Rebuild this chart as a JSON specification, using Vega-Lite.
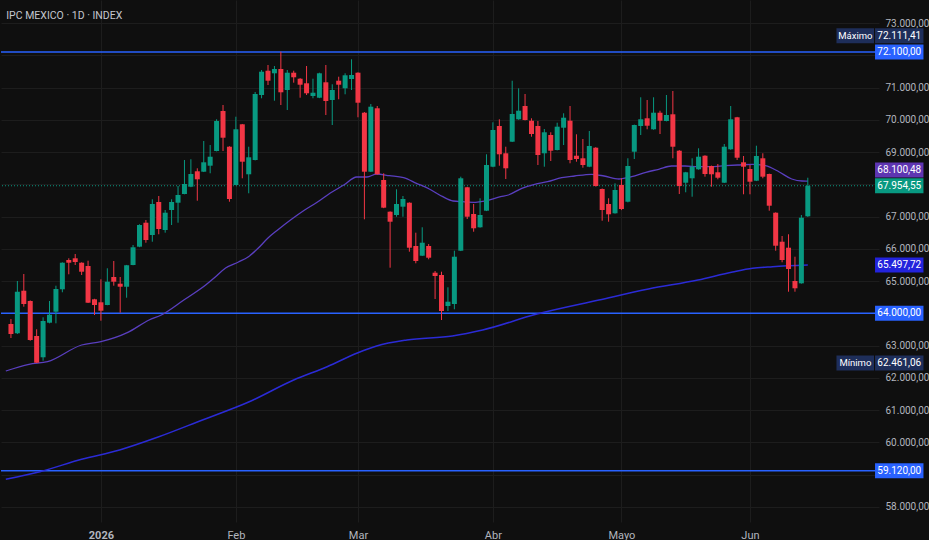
{
  "$schema": "https://vega.github.io/schema/vega-lite/v6.json",
  "width": 878,
  "height": 522,
  "padding": 0,
  "background": "#0f0f0f",
  "title": {
    "text": "IPC MEXICO · 1D · INDEX",
    "anchor": "start",
    "orient": "top",
    "offset": -21,
    "dx": 6,
    "fontSize": 10.5,
    "fontWeight": "normal",
    "color": "#c3c6ce",
    "font": "Roboto"
  },
  "datasets": {
    "velas": [
      {"i": 0, "o": 63669, "h": 63824, "l": 63235, "c": 63359},
      {"i": 1, "o": 63381, "h": 65002, "l": 63359, "c": 64671},
      {"i": 2, "o": 64701, "h": 65219, "l": 64205, "c": 64289},
      {"i": 3, "o": 64382, "h": 64400, "l": 63150, "c": 63173},
      {"i": 4, "o": 63297, "h": 63505, "l": 62461.06, "c": 62469},
      {"i": 5, "o": 62637, "h": 63877, "l": 62531, "c": 63762},
      {"i": 6, "o": 63709, "h": 64382, "l": 63690, "c": 63957},
      {"i": 7, "o": 64050, "h": 64856, "l": 63690, "c": 64754},
      {"i": 8, "o": 64745, "h": 65580, "l": 64652, "c": 65569},
      {"i": 9, "o": 65653, "h": 65706, "l": 65210, "c": 65569},
      {"i": 10, "o": 65706, "h": 65839, "l": 65498, "c": 65591},
      {"i": 11, "o": 65569, "h": 65580, "l": 65188, "c": 65290},
      {"i": 12, "o": 65467, "h": 65631, "l": 64320, "c": 64329},
      {"i": 13, "o": 64435, "h": 64450, "l": 63948, "c": 64258},
      {"i": 14, "o": 64342, "h": 65055, "l": 63771, "c": 64081},
      {"i": 15, "o": 64258, "h": 65396, "l": 64250, "c": 64980},
      {"i": 16, "o": 65126, "h": 65622, "l": 64856, "c": 64980},
      {"i": 17, "o": 64918, "h": 65126, "l": 64019, "c": 64825},
      {"i": 18, "o": 64825, "h": 65500, "l": 64484, "c": 65489},
      {"i": 19, "o": 65498, "h": 66118, "l": 65490, "c": 66047},
      {"i": 20, "o": 66066, "h": 66760, "l": 66050, "c": 66738},
      {"i": 21, "o": 66809, "h": 66893, "l": 66189, "c": 66273},
      {"i": 22, "o": 66428, "h": 67535, "l": 66220, "c": 67389},
      {"i": 23, "o": 67451, "h": 67637, "l": 66450, "c": 66614},
      {"i": 24, "o": 66583, "h": 67203, "l": 66500, "c": 67119},
      {"i": 25, "o": 67203, "h": 67535, "l": 66738, "c": 67451},
      {"i": 26, "o": 67429, "h": 67947, "l": 66809, "c": 67668},
      {"i": 27, "o": 67699, "h": 68753, "l": 67690, "c": 68009},
      {"i": 28, "o": 67925, "h": 68775, "l": 67910, "c": 68319},
      {"i": 29, "o": 68403, "h": 68496, "l": 67491, "c": 68155},
      {"i": 30, "o": 68390, "h": 69342, "l": 68380, "c": 68682},
      {"i": 31, "o": 68576, "h": 69218, "l": 68341, "c": 68855},
      {"i": 32, "o": 69032, "h": 70015, "l": 69020, "c": 69962},
      {"i": 33, "o": 70272, "h": 70458, "l": 69032, "c": 69444},
      {"i": 34, "o": 69165, "h": 69180, "l": 67460, "c": 67544},
      {"i": 35, "o": 67978, "h": 70095, "l": 67970, "c": 69705},
      {"i": 36, "o": 69860, "h": 69870, "l": 68186, "c": 68700},
      {"i": 37, "o": 68310, "h": 69165, "l": 67721, "c": 68837},
      {"i": 38, "o": 68753, "h": 70861, "l": 68740, "c": 70799},
      {"i": 39, "o": 70768, "h": 71543, "l": 70666, "c": 71490},
      {"i": 40, "o": 71521, "h": 71698, "l": 71078, "c": 71211},
      {"i": 41, "o": 71441, "h": 71667, "l": 70591, "c": 71574},
      {"i": 42, "o": 71574, "h": 72111.41, "l": 70458, "c": 70852},
      {"i": 43, "o": 70923, "h": 71543, "l": 70303, "c": 71459},
      {"i": 44, "o": 71459, "h": 71521, "l": 71150, "c": 71317},
      {"i": 45, "o": 71273, "h": 71290, "l": 70684, "c": 71087},
      {"i": 46, "o": 71131, "h": 71667, "l": 70768, "c": 70821},
      {"i": 47, "o": 70737, "h": 71273, "l": 70666, "c": 70839},
      {"i": 48, "o": 70684, "h": 71459, "l": 70670, "c": 71441},
      {"i": 49, "o": 71162, "h": 71698, "l": 70148, "c": 70582},
      {"i": 50, "o": 70613, "h": 71100, "l": 69838, "c": 70923},
      {"i": 51, "o": 71211, "h": 71335, "l": 70635, "c": 71087},
      {"i": 52, "o": 70976, "h": 71441, "l": 70790, "c": 71379},
      {"i": 53, "o": 71264, "h": 71875, "l": 70923, "c": 71388},
      {"i": 54, "o": 71459, "h": 71470, "l": 70077, "c": 70529},
      {"i": 55, "o": 70219, "h": 70240, "l": 66915, "c": 68390},
      {"i": 56, "o": 68390, "h": 70489, "l": 68380, "c": 70405},
      {"i": 57, "o": 70356, "h": 70427, "l": 68300, "c": 68310},
      {"i": 58, "o": 68133, "h": 68341, "l": 67260, "c": 67275},
      {"i": 59, "o": 67150, "h": 67160, "l": 65414, "c": 66840},
      {"i": 60, "o": 67048, "h": 67845, "l": 66995, "c": 67389},
      {"i": 61, "o": 67306, "h": 67637, "l": 66995, "c": 67544},
      {"i": 62, "o": 67429, "h": 67440, "l": 65910, "c": 66034},
      {"i": 63, "o": 66087, "h": 66500, "l": 65551, "c": 65622},
      {"i": 64, "o": 65786, "h": 66667, "l": 65776, "c": 66189},
      {"i": 65, "o": 66087, "h": 66149, "l": 65675, "c": 65724},
      {"i": 66, "o": 65259, "h": 65312, "l": 64444, "c": 65157},
      {"i": 67, "o": 65188, "h": 65290, "l": 63793, "c": 64072},
      {"i": 68, "o": 64227, "h": 64807, "l": 64072, "c": 64360},
      {"i": 69, "o": 64289, "h": 65941, "l": 64125, "c": 65755},
      {"i": 70, "o": 65941, "h": 68236, "l": 65930, "c": 68186},
      {"i": 71, "o": 67907, "h": 67920, "l": 66924, "c": 66995},
      {"i": 72, "o": 67079, "h": 67389, "l": 66530, "c": 66636},
      {"i": 73, "o": 66667, "h": 67566, "l": 66655, "c": 67048},
      {"i": 74, "o": 67181, "h": 68930, "l": 67170, "c": 68598},
      {"i": 75, "o": 68545, "h": 69922, "l": 68530, "c": 69683},
      {"i": 76, "o": 69807, "h": 70015, "l": 68576, "c": 68930},
      {"i": 77, "o": 68961, "h": 69165, "l": 68164, "c": 68496},
      {"i": 78, "o": 69320, "h": 71211, "l": 69310, "c": 70179},
      {"i": 79, "o": 70015, "h": 70976, "l": 70000, "c": 70281},
      {"i": 80, "o": 70427, "h": 70799, "l": 69980, "c": 69993},
      {"i": 81, "o": 69971, "h": 70046, "l": 69475, "c": 69559},
      {"i": 82, "o": 69807, "h": 69962, "l": 68598, "c": 68908},
      {"i": 83, "o": 68961, "h": 69714, "l": 68545, "c": 69612},
      {"i": 84, "o": 69528, "h": 69612, "l": 68722, "c": 69041},
      {"i": 85, "o": 69063, "h": 69909, "l": 69050, "c": 69786},
      {"i": 86, "o": 69754, "h": 70201, "l": 69218, "c": 70064},
      {"i": 87, "o": 69971, "h": 70427, "l": 68651, "c": 68753},
      {"i": 88, "o": 68886, "h": 69550, "l": 68700, "c": 68784},
      {"i": 89, "o": 68806, "h": 69404, "l": 68514, "c": 68598},
      {"i": 90, "o": 68545, "h": 69652, "l": 68530, "c": 69187},
      {"i": 91, "o": 69134, "h": 69150, "l": 67930, "c": 67947},
      {"i": 92, "o": 67854, "h": 67870, "l": 66871, "c": 67203},
      {"i": 93, "o": 67389, "h": 67566, "l": 66840, "c": 67070},
      {"i": 94, "o": 67101, "h": 68031, "l": 67090, "c": 67823},
      {"i": 95, "o": 67978, "h": 68186, "l": 67200, "c": 67234},
      {"i": 96, "o": 67460, "h": 68806, "l": 67440, "c": 68567},
      {"i": 97, "o": 69010, "h": 69850, "l": 68784, "c": 69838},
      {"i": 98, "o": 69807, "h": 70697, "l": 69528, "c": 70015},
      {"i": 99, "o": 70046, "h": 70613, "l": 69705, "c": 69816},
      {"i": 100, "o": 69705, "h": 70697, "l": 69690, "c": 70219},
      {"i": 101, "o": 70219, "h": 70281, "l": 69559, "c": 69971},
      {"i": 102, "o": 69962, "h": 70768, "l": 69950, "c": 70148},
      {"i": 103, "o": 70170, "h": 70892, "l": 68806, "c": 69165},
      {"i": 104, "o": 69041, "h": 69060, "l": 67699, "c": 67947},
      {"i": 105, "o": 68049, "h": 68385, "l": 67752, "c": 68372},
      {"i": 106, "o": 68186, "h": 68806, "l": 67615, "c": 68545},
      {"i": 107, "o": 68465, "h": 69116, "l": 68450, "c": 68855},
      {"i": 108, "o": 68886, "h": 68900, "l": 68236, "c": 68319},
      {"i": 109, "o": 68567, "h": 68580, "l": 67925, "c": 68310},
      {"i": 110, "o": 68372, "h": 68629, "l": 68155, "c": 68204},
      {"i": 111, "o": 68049, "h": 69249, "l": 68040, "c": 69165},
      {"i": 112, "o": 69085, "h": 70427, "l": 69070, "c": 70015},
      {"i": 113, "o": 70077, "h": 70090, "l": 68753, "c": 68824},
      {"i": 114, "o": 68682, "h": 68877, "l": 67690, "c": 68545},
      {"i": 115, "o": 68474, "h": 68598, "l": 67690, "c": 68080},
      {"i": 116, "o": 68111, "h": 69196, "l": 68100, "c": 68877},
      {"i": 117, "o": 68806, "h": 68961, "l": 68186, "c": 68236},
      {"i": 118, "o": 68319, "h": 68330, "l": 67181, "c": 67336},
      {"i": 119, "o": 67119, "h": 67130, "l": 65941, "c": 66096},
      {"i": 120, "o": 66220, "h": 66397, "l": 65582, "c": 65653},
      {"i": 121, "o": 66034, "h": 66450, "l": 64670, "c": 65374},
      {"i": 122, "o": 65002, "h": 65755, "l": 64670, "c": 64776},
      {"i": 123, "o": 64930, "h": 67048, "l": 64920, "c": 66964},
      {"i": 124, "o": 67008, "h": 68204, "l": 66990, "c": 67954.55}
    ],
    "medias": [
      {"serie": "ma50", "i": -0.8, "valor": 62212},
      {"serie": "ma50", "i": 2.8, "valor": 62420},
      {"serie": "ma50", "i": 5.7, "valor": 62500},
      {"serie": "ma50", "i": 11, "valor": 63018},
      {"serie": "ma50", "i": 14, "valor": 63121},
      {"serie": "ma50", "i": 18.1, "valor": 63400},
      {"serie": "ma50", "i": 21.5, "valor": 63793},
      {"serie": "ma50", "i": 23.4, "valor": 63948},
      {"serie": "ma50", "i": 26.9, "valor": 64413},
      {"serie": "ma50", "i": 30.3, "valor": 64878},
      {"serie": "ma50", "i": 31.8, "valor": 65126},
      {"serie": "ma50", "i": 33.4, "valor": 65405},
      {"serie": "ma50", "i": 35.4, "valor": 65591},
      {"serie": "ma50", "i": 36.9, "valor": 65746},
      {"serie": "ma50", "i": 38.5, "valor": 66025},
      {"serie": "ma50", "i": 40, "valor": 66335},
      {"serie": "ma50", "i": 41.5, "valor": 66583},
      {"serie": "ma50", "i": 43.5, "valor": 66893},
      {"serie": "ma50", "i": 45.7, "valor": 67203},
      {"serie": "ma50", "i": 47.7, "valor": 67451},
      {"serie": "ma50", "i": 49.7, "valor": 67730},
      {"serie": "ma50", "i": 51.8, "valor": 67978},
      {"serie": "ma50", "i": 53.8, "valor": 68226},
      {"serie": "ma50", "i": 55.4, "valor": 68226},
      {"serie": "ma50", "i": 56.9, "valor": 68319},
      {"serie": "ma50", "i": 58.9, "valor": 68266},
      {"serie": "ma50", "i": 61.1, "valor": 68204},
      {"serie": "ma50", "i": 63.1, "valor": 68031},
      {"serie": "ma50", "i": 65.1, "valor": 67854},
      {"serie": "ma50", "i": 67.2, "valor": 67615},
      {"serie": "ma50", "i": 68.8, "valor": 67482},
      {"serie": "ma50", "i": 70.3, "valor": 67460},
      {"serie": "ma50", "i": 72.3, "valor": 67442},
      {"serie": "ma50", "i": 73.8, "valor": 67482},
      {"serie": "ma50", "i": 76.2, "valor": 67615},
      {"serie": "ma50", "i": 77.4, "valor": 67668},
      {"serie": "ma50", "i": 79.5, "valor": 67876},
      {"serie": "ma50", "i": 81.5, "valor": 68000},
      {"serie": "ma50", "i": 83.5, "valor": 68080},
      {"serie": "ma50", "i": 85.7, "valor": 68204},
      {"serie": "ma50", "i": 87.7, "valor": 68257},
      {"serie": "ma50", "i": 90.3, "valor": 68310},
      {"serie": "ma50", "i": 92.3, "valor": 68257},
      {"serie": "ma50", "i": 94.6, "valor": 68164},
      {"serie": "ma50", "i": 96.6, "valor": 68236},
      {"serie": "ma50", "i": 98.8, "valor": 68372},
      {"serie": "ma50", "i": 100.8, "valor": 68465},
      {"serie": "ma50", "i": 102.8, "valor": 68567},
      {"serie": "ma50", "i": 104.9, "valor": 68567},
      {"serie": "ma50", "i": 106.9, "valor": 68546},
      {"serie": "ma50", "i": 108.9, "valor": 68546},
      {"serie": "ma50", "i": 111.1, "valor": 68576},
      {"serie": "ma50", "i": 113.1, "valor": 68598},
      {"serie": "ma50", "i": 115.4, "valor": 68620},
      {"serie": "ma50", "i": 117.4, "valor": 68576},
      {"serie": "ma50", "i": 119.5, "valor": 68390},
      {"serie": "ma50", "i": 121.5, "valor": 68164},
      {"serie": "ma50", "i": 123.1, "valor": 68102},
      {"serie": "ma50", "i": 124, "valor": 68100.48},
      {"serie": "ma200", "i": -0.8, "valor": 58855},
      {"serie": "ma200", "i": 4.5, "valor": 59090},
      {"serie": "ma200", "i": 11, "valor": 59475},
      {"serie": "ma200", "i": 16.9, "valor": 59763},
      {"serie": "ma200", "i": 22.8, "valor": 60157},
      {"serie": "ma200", "i": 29.8, "valor": 60693},
      {"serie": "ma200", "i": 36.9, "valor": 61242},
      {"serie": "ma200", "i": 44, "valor": 61933},
      {"serie": "ma200", "i": 49.2, "valor": 62345},
      {"serie": "ma200", "i": 54, "valor": 62779},
      {"serie": "ma200", "i": 56.9, "valor": 62987},
      {"serie": "ma200", "i": 61.6, "valor": 63173},
      {"serie": "ma200", "i": 68.7, "valor": 63297},
      {"serie": "ma200", "i": 73.4, "valor": 63483},
      {"serie": "ma200", "i": 81.7, "valor": 63970},
      {"serie": "ma200", "i": 91.5, "valor": 64413},
      {"serie": "ma200", "i": 99.2, "valor": 64754},
      {"serie": "ma200", "i": 106.9, "valor": 65033},
      {"serie": "ma200", "i": 112.3, "valor": 65281},
      {"serie": "ma200", "i": 115.4, "valor": 65396},
      {"serie": "ma200", "i": 118.5, "valor": 65446},
      {"serie": "ma200", "i": 124, "valor": 65497.72}
    ],
    "niveles": [
      {"tipo": "linea", "valor": 72100},
      {"tipo": "linea", "valor": 64000},
      {"tipo": "linea", "valor": 59120},
      {"tipo": "max", "valor": 72111.41, "etiqueta": "Máximo"},
      {"tipo": "min", "valor": 62461.06, "etiqueta": "Mínimo"},
      {"tipo": "ma50", "valor": 68100.48},
      {"tipo": "ma200", "valor": 65497.72},
      {"tipo": "ultimo", "valor": 67954.55}
    ]
  },
  "layer": [
    {
      "data": {"name": "niveles"},
      "transform": [{"filter": "datum.tipo == 'linea'"}],
      "mark": {"type": "rule", "color": "#2962ff", "strokeWidth": 1.5},
      "encoding": {
        "y": {"field": "valor", "type": "quantitative", "scale": {"domain": [57531, 73713], "nice": false, "zero": false},
          "axis": {"orient": "right", "values": [58000, 59000, 60000, 61000, 62000, 63000, 64000, 65000, 66000, 67000, 68000, 69000, 70000, 71000, 72000, 73000], "format": ",.2f", "title": null, "ticks": false, "domain": false, "grid": true, "gridColor": "#1d1d1d", "labelColor": "#b2b5be", "labelFontSize": 10, "labelPadding": 6, "labelFont": "Roboto", "labelExpr": "indexof([59000, 64000, 68000, 72000], datum.value) >= 0 ? '' : datum.label", "labelOverlap": false, "labelBound": false, "labelFlush": false}}
      }
    },
    {
      "data": {"name": "niveles"},
      "transform": [{"filter": "datum.tipo == 'ultimo'"}],
      "mark": {"type": "rule", "color": "#089981", "strokeWidth": 1, "strokeDash": [1, 2]},
      "encoding": {
        "y": {"field": "valor", "type": "quantitative",
          "axis": {"orient": "right", "values": [58000, 59000, 60000, 61000, 62000, 63000, 64000, 65000, 66000, 67000, 68000, 69000, 70000, 71000, 72000, 73000], "format": ",.2f", "title": null, "ticks": false, "domain": false, "grid": true, "gridColor": "#1d1d1d", "labelColor": "#b2b5be", "labelFontSize": 10, "labelPadding": 6, "labelFont": "Roboto", "labelExpr": "indexof([59000, 64000, 68000, 72000], datum.value) >= 0 ? '' : datum.label", "labelOverlap": false, "labelBound": false, "labelFlush": false}}
      }
    },
    {
      "data": {"name": "medias"},
      "transform": [{"filter": "datum.serie == 'ma200'"}],
      "mark": {"type": "line", "color": "#2b2bd6", "strokeWidth": 1.5, "clip": true, "interpolate": "monotone"},
      "encoding": {
        "x": {"field": "i", "type": "quantitative"},
        "y": {"field": "valor", "type": "quantitative",
          "axis": {"orient": "right", "values": [58000, 59000, 60000, 61000, 62000, 63000, 64000, 65000, 66000, 67000, 68000, 69000, 70000, 71000, 72000, 73000], "format": ",.2f", "title": null, "ticks": false, "domain": false, "grid": true, "gridColor": "#1d1d1d", "labelColor": "#b2b5be", "labelFontSize": 10, "labelPadding": 6, "labelFont": "Roboto", "labelExpr": "indexof([59000, 64000, 68000, 72000], datum.value) >= 0 ? '' : datum.label", "labelOverlap": false, "labelBound": false, "labelFlush": false}}
      }
    },
    {
      "data": {"name": "medias"},
      "transform": [{"filter": "datum.serie == 'ma50'"}],
      "mark": {"type": "line", "color": "#5a3fc0", "strokeWidth": 1.3, "clip": true, "interpolate": "monotone"},
      "encoding": {
        "x": {"field": "i", "type": "quantitative"},
        "y": {"field": "valor", "type": "quantitative",
          "axis": {"orient": "right", "values": [58000, 59000, 60000, 61000, 62000, 63000, 64000, 65000, 66000, 67000, 68000, 69000, 70000, 71000, 72000, 73000], "format": ",.2f", "title": null, "ticks": false, "domain": false, "grid": true, "gridColor": "#1d1d1d", "labelColor": "#b2b5be", "labelFontSize": 10, "labelPadding": 6, "labelFont": "Roboto", "labelExpr": "indexof([59000, 64000, 68000, 72000], datum.value) >= 0 ? '' : datum.label", "labelOverlap": false, "labelBound": false, "labelFlush": false}}
      }
    },
    {
      "data": {"name": "velas"},
      "mark": {"type": "rule", "strokeWidth": 1, "clip": true},
      "encoding": {
        "x": {"field": "i", "type": "quantitative", "scale": {"domain": [-0.77, 134.3], "nice": false, "zero": false},
          "axis": {"values": [14, 35, 54, 75, 95, 115], "title": null, "ticks": false, "domain": false, "grid": true, "gridColor": "#1d1d1d",
            "labelColor": "#b2b5be", "labelFontSize": 11, "labelPadding": 7, "labelFont": "Roboto",
            "labelFontWeight": {"condition": {"test": "datum.value == 14", "value": "bold"}, "value": "normal"},
            "labelExpr": "datum.value == 14 ? '2026' : datum.value == 35 ? 'Feb' : datum.value == 54 ? 'Mar' : datum.value == 75 ? 'Abr' : datum.value == 95 ? 'Mayo' : 'Jun'"}},
        "y": {"field": "l", "type": "quantitative",
          "axis": {"orient": "right", "values": [58000, 59000, 60000, 61000, 62000, 63000, 64000, 65000, 66000, 67000, 68000, 69000, 70000, 71000, 72000, 73000], "format": ",.2f", "title": null, "ticks": false, "domain": false, "grid": true, "gridColor": "#1d1d1d", "labelColor": "#b2b5be", "labelFontSize": 10, "labelPadding": 6, "labelFont": "Roboto", "labelExpr": "indexof([59000, 64000, 68000, 72000], datum.value) >= 0 ? '' : datum.label", "labelOverlap": false, "labelBound": false, "labelFlush": false}},
        "y2": {"field": "h"},
        "color": {"condition": {"test": "datum.c >= datum.o", "value": "#089981"}, "value": "#f23645"}
      }
    },
    {
      "data": {"name": "velas"},
      "mark": {"type": "bar", "width": 5, "clip": true},
      "encoding": {
        "x": {"field": "i", "type": "quantitative"},
        "y": {"field": "o", "type": "quantitative",
          "axis": {"orient": "right", "values": [58000, 59000, 60000, 61000, 62000, 63000, 64000, 65000, 66000, 67000, 68000, 69000, 70000, 71000, 72000, 73000], "format": ",.2f", "title": null, "ticks": false, "domain": false, "grid": true, "gridColor": "#1d1d1d", "labelColor": "#b2b5be", "labelFontSize": 10, "labelPadding": 6, "labelFont": "Roboto", "labelExpr": "indexof([59000, 64000, 68000, 72000], datum.value) >= 0 ? '' : datum.label", "labelOverlap": false, "labelBound": false, "labelFlush": false}},
        "y2": {"field": "c"},
        "color": {"condition": {"test": "datum.c >= datum.o", "value": "#089981"}, "value": "#f23645"}
      }
    },
    {
      "data": {"name": "niveles"},
      "transform": [{"filter": "datum.tipo != 'max' && datum.tipo != 'ma50'"}],
      "mark": {"type": "rect", "height": 15},
      "encoding": {
        "x": {"datum": 134.46, "type": "quantitative"},
        "x2": {"datum": 142.0},
        "y": {"field": "valor", "type": "quantitative",
          "axis": {"orient": "right", "values": [58000, 59000, 60000, 61000, 62000, 63000, 64000, 65000, 66000, 67000, 68000, 69000, 70000, 71000, 72000, 73000], "format": ",.2f", "title": null, "ticks": false, "domain": false, "grid": true, "gridColor": "#1d1d1d", "labelColor": "#b2b5be", "labelFontSize": 10, "labelPadding": 6, "labelFont": "Roboto", "labelExpr": "indexof([59000, 64000, 68000, 72000], datum.value) >= 0 ? '' : datum.label", "labelOverlap": false, "labelBound": false, "labelFlush": false}},
        "color": {"field": "tipo", "type": "nominal", "legend": null,
          "scale": {"domain": ["linea", "max", "min", "ma50", "ma200", "ultimo"], "range": ["#2962ff", "#1e2e5a", "#1e2e5a", "#5e35b1", "#2323dc", "#089981"]}}
      }
    },
    {
      "data": {"name": "niveles"},
      "transform": [{"filter": "datum.tipo == 'max'"}],
      "mark": {"type": "rect", "height": 15, "yOffset": -16},
      "encoding": {
        "x": {"datum": 134.46, "type": "quantitative"},
        "x2": {"datum": 142.0},
        "y": {"field": "valor", "type": "quantitative",
          "axis": {"orient": "right", "values": [58000, 59000, 60000, 61000, 62000, 63000, 64000, 65000, 66000, 67000, 68000, 69000, 70000, 71000, 72000, 73000], "format": ",.2f", "title": null, "ticks": false, "domain": false, "grid": true, "gridColor": "#1d1d1d", "labelColor": "#b2b5be", "labelFontSize": 10, "labelPadding": 6, "labelFont": "Roboto", "labelExpr": "indexof([59000, 64000, 68000, 72000], datum.value) >= 0 ? '' : datum.label", "labelOverlap": false, "labelBound": false, "labelFlush": false}},
        "color": {"field": "tipo", "type": "nominal", "legend": null}
      }
    },
    {
      "data": {"name": "niveles"},
      "transform": [{"filter": "datum.tipo == 'ma50'"}],
      "mark": {"type": "rect", "height": 15, "yOffset": -11},
      "encoding": {
        "x": {"datum": 134.46, "type": "quantitative"},
        "x2": {"datum": 142.0},
        "y": {"field": "valor", "type": "quantitative",
          "axis": {"orient": "right", "values": [58000, 59000, 60000, 61000, 62000, 63000, 64000, 65000, 66000, 67000, 68000, 69000, 70000, 71000, 72000, 73000], "format": ",.2f", "title": null, "ticks": false, "domain": false, "grid": true, "gridColor": "#1d1d1d", "labelColor": "#b2b5be", "labelFontSize": 10, "labelPadding": 6, "labelFont": "Roboto", "labelExpr": "indexof([59000, 64000, 68000, 72000], datum.value) >= 0 ? '' : datum.label", "labelOverlap": false, "labelBound": false, "labelFlush": false}},
        "color": {"field": "tipo", "type": "nominal", "legend": null}
      }
    },
    {
      "data": {"name": "niveles"},
      "transform": [{"filter": "datum.tipo == 'max'"}],
      "mark": {"type": "rect", "height": 15, "yOffset": -16},
      "encoding": {
        "x": {"datum": 128.46, "type": "quantitative"},
        "x2": {"datum": 134.3},
        "y": {"field": "valor", "type": "quantitative",
          "axis": {"orient": "right", "values": [58000, 59000, 60000, 61000, 62000, 63000, 64000, 65000, 66000, 67000, 68000, 69000, 70000, 71000, 72000, 73000], "format": ",.2f", "title": null, "ticks": false, "domain": false, "grid": true, "gridColor": "#1d1d1d", "labelColor": "#b2b5be", "labelFontSize": 10, "labelPadding": 6, "labelFont": "Roboto", "labelExpr": "indexof([59000, 64000, 68000, 72000], datum.value) >= 0 ? '' : datum.label", "labelOverlap": false, "labelBound": false, "labelFlush": false}},
        "color": {"field": "tipo", "type": "nominal", "legend": null}
      }
    },
    {
      "data": {"name": "niveles"},
      "transform": [{"filter": "datum.tipo == 'min'"}],
      "mark": {"type": "rect", "height": 15},
      "encoding": {
        "x": {"datum": 128.46, "type": "quantitative"},
        "x2": {"datum": 134.3},
        "y": {"field": "valor", "type": "quantitative",
          "axis": {"orient": "right", "values": [58000, 59000, 60000, 61000, 62000, 63000, 64000, 65000, 66000, 67000, 68000, 69000, 70000, 71000, 72000, 73000], "format": ",.2f", "title": null, "ticks": false, "domain": false, "grid": true, "gridColor": "#1d1d1d", "labelColor": "#b2b5be", "labelFontSize": 10, "labelPadding": 6, "labelFont": "Roboto", "labelExpr": "indexof([59000, 64000, 68000, 72000], datum.value) >= 0 ? '' : datum.label", "labelOverlap": false, "labelBound": false, "labelFlush": false}},
        "color": {"field": "tipo", "type": "nominal", "legend": null}
      }
    },
    {
      "data": {"name": "niveles"},
      "transform": [{"filter": "datum.tipo != 'max' && datum.tipo != 'ma50'"}],
      "mark": {"type": "text", "color": "#ffffff", "fontSize": 10, "font": "Roboto", "baseline": "middle", "align": "center"},
      "encoding": {
        "x": {"datum": 138.23, "type": "quantitative"},
        "y": {"field": "valor", "type": "quantitative",
          "axis": {"orient": "right", "values": [58000, 59000, 60000, 61000, 62000, 63000, 64000, 65000, 66000, 67000, 68000, 69000, 70000, 71000, 72000, 73000], "format": ",.2f", "title": null, "ticks": false, "domain": false, "grid": true, "gridColor": "#1d1d1d", "labelColor": "#b2b5be", "labelFontSize": 10, "labelPadding": 6, "labelFont": "Roboto", "labelExpr": "indexof([59000, 64000, 68000, 72000], datum.value) >= 0 ? '' : datum.label", "labelOverlap": false, "labelBound": false, "labelFlush": false}},
        "text": {"field": "valor", "type": "quantitative", "format": ",.2f"}
      }
    },
    {
      "data": {"name": "niveles"},
      "transform": [{"filter": "datum.tipo == 'max'"}],
      "mark": {"type": "text", "color": "#ffffff", "fontSize": 10, "font": "Roboto", "baseline": "middle", "align": "center", "yOffset": -16},
      "encoding": {
        "x": {"datum": 138.23, "type": "quantitative"},
        "y": {"field": "valor", "type": "quantitative",
          "axis": {"orient": "right", "values": [58000, 59000, 60000, 61000, 62000, 63000, 64000, 65000, 66000, 67000, 68000, 69000, 70000, 71000, 72000, 73000], "format": ",.2f", "title": null, "ticks": false, "domain": false, "grid": true, "gridColor": "#1d1d1d", "labelColor": "#b2b5be", "labelFontSize": 10, "labelPadding": 6, "labelFont": "Roboto", "labelExpr": "indexof([59000, 64000, 68000, 72000], datum.value) >= 0 ? '' : datum.label", "labelOverlap": false, "labelBound": false, "labelFlush": false}},
        "text": {"field": "valor", "type": "quantitative", "format": ",.2f"}
      }
    },
    {
      "data": {"name": "niveles"},
      "transform": [{"filter": "datum.tipo == 'ma50'"}],
      "mark": {"type": "text", "color": "#ffffff", "fontSize": 10, "font": "Roboto", "baseline": "middle", "align": "center", "yOffset": -11},
      "encoding": {
        "x": {"datum": 138.23, "type": "quantitative"},
        "y": {"field": "valor", "type": "quantitative",
          "axis": {"orient": "right", "values": [58000, 59000, 60000, 61000, 62000, 63000, 64000, 65000, 66000, 67000, 68000, 69000, 70000, 71000, 72000, 73000], "format": ",.2f", "title": null, "ticks": false, "domain": false, "grid": true, "gridColor": "#1d1d1d", "labelColor": "#b2b5be", "labelFontSize": 10, "labelPadding": 6, "labelFont": "Roboto", "labelExpr": "indexof([59000, 64000, 68000, 72000], datum.value) >= 0 ? '' : datum.label", "labelOverlap": false, "labelBound": false, "labelFlush": false}},
        "text": {"field": "valor", "type": "quantitative", "format": ",.2f"}
      }
    },
    {
      "data": {"name": "niveles"},
      "transform": [{"filter": "datum.tipo == 'max'"}],
      "mark": {"type": "text", "color": "#ffffff", "fontSize": 9.5, "font": "Roboto", "baseline": "middle", "align": "center", "yOffset": -16},
      "encoding": {
        "x": {"datum": 131.4, "type": "quantitative"},
        "y": {"field": "valor", "type": "quantitative",
          "axis": {"orient": "right", "values": [58000, 59000, 60000, 61000, 62000, 63000, 64000, 65000, 66000, 67000, 68000, 69000, 70000, 71000, 72000, 73000], "format": ",.2f", "title": null, "ticks": false, "domain": false, "grid": true, "gridColor": "#1d1d1d", "labelColor": "#b2b5be", "labelFontSize": 10, "labelPadding": 6, "labelFont": "Roboto", "labelExpr": "indexof([59000, 64000, 68000, 72000], datum.value) >= 0 ? '' : datum.label", "labelOverlap": false, "labelBound": false, "labelFlush": false}},
        "text": {"field": "etiqueta"}
      }
    },
    {
      "data": {"name": "niveles"},
      "transform": [{"filter": "datum.tipo == 'min'"}],
      "mark": {"type": "text", "color": "#ffffff", "fontSize": 9.5, "font": "Roboto", "baseline": "middle", "align": "center"},
      "encoding": {
        "x": {"datum": 131.4, "type": "quantitative"},
        "y": {"field": "valor", "type": "quantitative",
          "axis": {"orient": "right", "values": [58000, 59000, 60000, 61000, 62000, 63000, 64000, 65000, 66000, 67000, 68000, 69000, 70000, 71000, 72000, 73000], "format": ",.2f", "title": null, "ticks": false, "domain": false, "grid": true, "gridColor": "#1d1d1d", "labelColor": "#b2b5be", "labelFontSize": 10, "labelPadding": 6, "labelFont": "Roboto", "labelExpr": "indexof([59000, 64000, 68000, 72000], datum.value) >= 0 ? '' : datum.label", "labelOverlap": false, "labelBound": false, "labelFlush": false}},
        "text": {"field": "etiqueta"}
      }
    }
  ],
  "config": {
    "view": {"stroke": null},
    "font": "Roboto",
    "locale": {
      "number": {"decimal": ",", "thousands": ".", "grouping": [3], "currency": ["$", ""]}
    }
  }
}
